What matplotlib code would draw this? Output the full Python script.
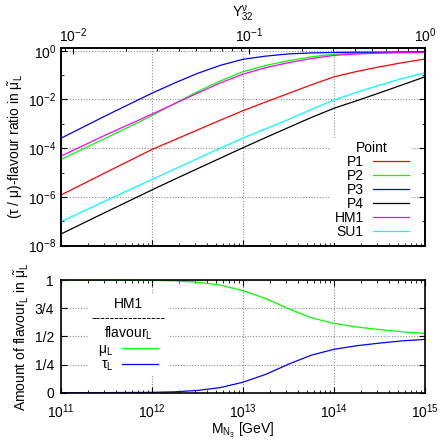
import numpy as np
import matplotlib
matplotlib.use('Agg')
import matplotlib.pyplot as plt
from matplotlib.ticker import FixedLocator, LogLocator, NullFormatter

plt.rcParams['font.family'] = ['Liberation Sans', 'DejaVu Sans']
plt.rcParams['font.size'] = 10
plt.rcParams['mathtext.fontset'] = 'custom'
plt.rcParams['mathtext.rm'] = 'Liberation Sans'
plt.rcParams['mathtext.it'] = 'Liberation Sans:italic'
plt.rcParams['mathtext.sf'] = 'Liberation Sans'

# heavy neutrino mass M_N3 [GeV]
m_n3 = [1e11, 3.16e11, 1e12, 1.78e12, 3.16e12, 5.62e12, 1e13, 1.78e13, 3.16e13,
        5.62e13, 1e14, 1.78e14, 3.16e14, 5.62e14, 1e15]

# (tau/mu)-flavour ratio (log10)
log_p1 = [-5.92, -4.98, -4.05, -3.65, -3.25, -2.85, -2.46, -2.10, -1.75, -1.40, -1.07, -0.85, -0.66, -0.49, -0.34]
log_p2 = [-4.46, -3.57, -2.66, -2.16, -1.68, -1.24, -0.86, -0.60, -0.41, -0.25, -0.14, -0.10, -0.08, -0.06, -0.05]
log_p3 = [-3.59, -2.65, -1.74, -1.32, -0.93, -0.60, -0.35, -0.22, -0.13, -0.09, -0.07, -0.06, -0.06, -0.05, -0.05]
log_p4 = [-7.52, -6.61, -5.71, -5.27, -4.84, -4.41, -3.98, -3.56, -3.15, -2.74, -2.36, -2.05, -1.73, -1.40, -1.07]
log_hm1 = [-4.32, -3.44, -2.60, -2.17, -1.74, -1.32, -0.96, -0.69, -0.49, -0.32, -0.19, -0.13, -0.10, -0.08, -0.07]
log_su1 = [-7.01, -6.14, -5.28, -4.85, -4.42, -4.00, -3.58, -3.20, -2.82, -2.41, -2.02, -1.70, -1.41, -1.14, -0.90]

points = ['P1', 'P2', 'P3', 'P4', 'HM1', 'SU1']
colors = ['#ff0000', '#00ff00', '#0000ff', '#000000', '#ff00ff', '#00ffff']

# amount of flavour_L in the lightest slepton (HM1)
mu_l = [1.0, 0.999, 0.997, 0.992, 0.980, 0.955, 0.905, 0.835, 0.745,
        0.665, 0.615, 0.583, 0.560, 0.540, 0.527]
tau_l = [0.0, 0.001, 0.003, 0.008, 0.020, 0.045, 0.093, 0.163, 0.253,
         0.333, 0.385, 0.417, 0.440, 0.460, 0.473]

fig = plt.figure(figsize=(4.4, 4.47), dpi=100)
ax1 = fig.add_axes([61/440, 1-245.7/447, 364/440, 198/447])
ax2 = fig.add_axes([61/440, 1-392.7/447, 364/440, 112.7/447])

grid_kw = dict(color='0.55', linestyle=(0, (1, 1.5)), linewidth=0.8)

# ---- top panel
series = [log_p1, log_p2, log_p3, log_p4, log_hm1, log_su1]
for name, col, vals in zip(points, colors, series):
    ax1.plot(m_n3, 10.0**np.array(vals), color=col, lw=0.9, label=name)
ax1.set_xscale('log')
ax1.set_yscale('log')
ax1.set_xlim(1e11, 1e15)
ax1.set_ylim(1e-8, 10**0.125)
ax1.set_yticks([1e-8, 1e-6, 1e-4, 1e-2, 1])
ax1.set_yticklabels([r'$10^{-8}$', r'$10^{-6}$', r'$10^{-4}$', r'$10^{-2}$', r'$10^{0}$'])
ax1.yaxis.set_minor_locator(FixedLocator([1e-7, 1e-5, 1e-3, 1e-1]))
ax1.yaxis.set_minor_formatter(NullFormatter())
ax1.xaxis.set_major_locator(FixedLocator([1e11, 1e12, 1e13, 1e14, 1e15]))
ax1.xaxis.set_minor_locator(LogLocator(base=10, subs=np.arange(2, 10), numticks=20))
ax1.tick_params(which='both', direction='in', top=False, right=True, labelbottom=False)
ax1.tick_params(which='major', length=4.5)
ax1.tick_params(which='minor', length=2.5)
ax1.grid(True, which='major', **grid_kw)
ax1.set_ylabel(r'(τ / μ)-flavour ratio in $\tilde{\mathrm{\mu}}_\mathrm{L}$', labelpad=2)
for s in ax1.spines.values():
    s.set_linewidth(1.2)

leg1 = ax1.legend(title='Point', loc='lower right', bbox_to_anchor=(0.965, 0.015),
                  markerfirst=False, frameon=True, fancybox=False, framealpha=1,
                  edgecolor='none', facecolor='white', handlelength=2.6,
                  handletextpad=0.65, labelspacing=0.0, borderpad=0.25,
                  borderaxespad=0.0)

ax1t = ax1.twiny()
ax1t.set_xscale('log')
ax1t.set_xlim(10**-2.066, 1)
ax1t.set_xticks([1e-2, 1e-1, 1])
ax1t.set_xticklabels([r'$10^{-2}$', r'$10^{-1}$', r'$10^{0}$'])
ax1t.xaxis.set_minor_locator(LogLocator(base=10, subs=np.arange(2, 10), numticks=20))
ax1t.xaxis.set_minor_formatter(NullFormatter())
ax1t.tick_params(which='both', direction='in', pad=2)
ax1t.tick_params(which='major', length=4.5)
ax1t.tick_params(which='minor', length=2.5)
ax1t.set_xlabel(r'$\mathrm{Y}^{\mathrm{\nu}}_{32}$', labelpad=6)
for s in ax1t.spines.values():
    s.set_linewidth(1.2)

# ---- bottom panel
ax2.plot(m_n3, mu_l, color='#00ff00', lw=0.9, label=r'$\mathrm{\mu}_\mathrm{L}$')
ax2.plot(m_n3, tau_l, color='#0000ff', lw=0.9, label=r'$\mathrm{\tau}_\mathrm{L}$')
ax2.set_xscale('log')
ax2.set_xlim(1e11, 1e15)
ax2.set_ylim(0, 1)
ax2.set_yticks([0, 0.25, 0.5, 0.75, 1])
ax2.set_yticklabels(['0', '1/4', '1/2', '3/4', '1'])
ax2.xaxis.set_major_locator(FixedLocator([1e11, 1e12, 1e13, 1e14, 1e15]))
ax2.xaxis.set_minor_locator(LogLocator(base=10, subs=np.arange(2, 10), numticks=20))
ax2.xaxis.set_minor_formatter(NullFormatter())
ax2.tick_params(which='both', direction='in', top=True, right=True)
ax2.tick_params(axis='x', which='major', length=4.5, pad=7)
ax2.tick_params(axis='y', which='major', length=4.5, pad=5)
ax2.tick_params(which='minor', length=2.5)
ax2.grid(True, which='major', **grid_kw)
ax2.set_xlabel(r'$\mathrm{M}_{\mathrm{N}_3}$ [GeV]', labelpad=0)
ax2.set_ylabel(r'Amount of flavour$_\mathrm{L}$ in $\tilde{\mathrm{\mu}}_\mathrm{L}$', labelpad=3)
for s in ax2.spines.values():
    s.set_linewidth(1.2)

leg2 = ax2.legend(title='HM1\n' + '-' * 16 + '\nflavour$_\\mathrm{L}$',
                  loc='upper right', bbox_to_anchor=(0.294, 0.878),
                  markerfirst=False, frameon=True, fancybox=False, framealpha=1,
                  edgecolor='none', facecolor='white', handlelength=2.6,
                  handletextpad=0.65, labelspacing=0.0, borderpad=0.2,
                  borderaxespad=0.0)
leg2.get_title().set_linespacing(1.0)
leg2.get_title().set_multialignment('center')

fig.savefig('out.png', dpi=100)
